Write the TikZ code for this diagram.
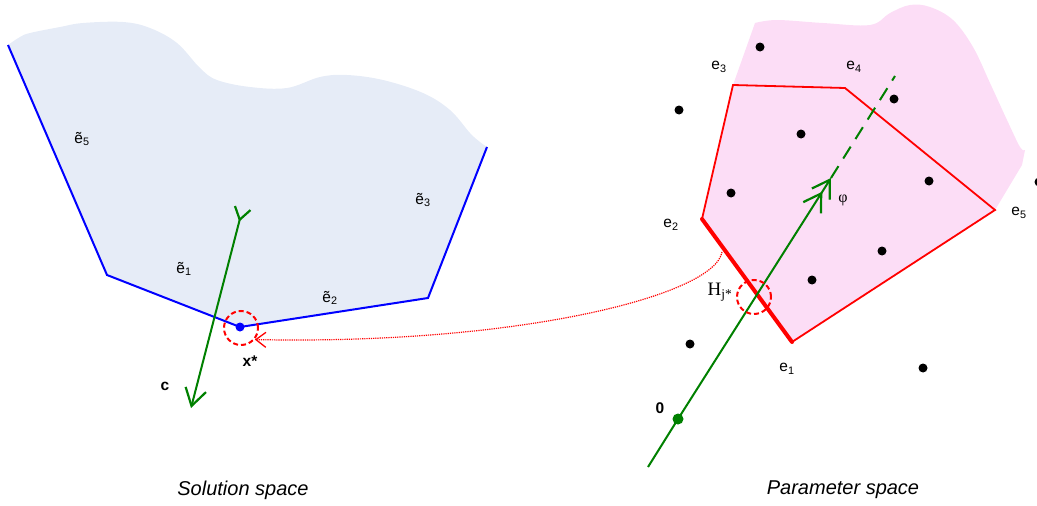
\documentclass[tikz,border=0pt]{standalone}
\usepackage{fontspec}
\setmainfont{Liberation Sans}
\newfontfamily\serifface{Liberation Serif}
\usepackage{tikz}
\usetikzlibrary{arrows.meta}
\definecolor{solfill}{HTML}{E6ECF7}
\definecolor{parfill}{HTML}{FCDDF6}
\definecolor{dirgreen}{HTML}{008000}

\begin{document}
\begin{tikzpicture}[x=1pt, y=-1pt,
  lbl/.style={inner sep=0pt, font=\fontsize{15.5}{18}\selectfont},
  boldlbl/.style={inner sep=0pt, font=\fontsize{15.5}{18}\selectfont\bfseries},
  title/.style={font=\fontsize{20}{24}\selectfont\itshape},
  dot/.style={circle, fill=black, inner sep=0pt, minimum size=9pt},
  ring/.style={circle, draw=red, dash pattern=on 5pt off 3pt, line width=2pt, inner sep=0pt, minimum size=34pt},
  barb/.tip={Straight Barb[length=17pt, width=21pt, line width=2.2pt]}]
  \useasboundingbox (0,0) rectangle (1037,506);

  % solution space
  \coordinate (v5) at (8,45);
  \coordinate (v1) at (107,275);
  \coordinate (v2) at (428,298);
  \coordinate (v3) at (487,147);
  \fill[solfill] (v1) -- (v5) -- plot[smooth, tension=0.6] coordinates {(8,45) (20,37) (30,33) (60,27) (83,23)
    (123,22) (150,28) (177,43) (200,68) (217,80) (250,87) (287,88) (320,77) (347,75) (383,80)
    (423,93) (450,110) (470,133) (480,142) (487,147)} -- (v2) -- (240,327) -- cycle;
  \node[circle, fill=blue, inner sep=0pt, minimum size=9pt] (xs) at (240,327) {};
  \draw[blue, line width=2pt] (v5) -- (v1) -- (xs.center) -- (v2) -- (v3);
  \node[ring] (xring) at (241,328) {};

  \coordinate (ctop) at (243,207);
  \coordinate (cbot) at (191,408);
  \draw[dirgreen, line width=2pt, {Straight Barb[reversed, length=12pt, width=16pt, line width=2.2pt]}-barb] (ctop) -- (cbot);

  \node[lbl] (et5) at (82,139) {ẽ\textsubscript{5}};
  \node[lbl] (et1) at (184,269) {ẽ\textsubscript{1}};
  \node[lbl] (et2) at (330,298) {ẽ\textsubscript{2}};
  \node[lbl] (et3) at (423,200) {ẽ\textsubscript{3}};
  \node[boldlbl] (clbl) at (165,386) {c};
  \node[boldlbl] (xlbl) at (250,361) {x*};

  % parameter space
  \coordinate (q1) at (792,342);
  \coordinate (q2) at (702,219);
  \coordinate (q3) at (733,85);
  \coordinate (q4) at (845,88);
  \coordinate (q5) at (995,210);
  \fill[parfill] (q2) -- (q3) -- plot[smooth, tension=0.6] coordinates {(755,23) (777,20) (823,23) (870,25)
    (890,13) (910,5) (930,7) (953,20) (973,47) (990,83) (1007,120) (1020,147) (1025,150)}
    -- (1022,165) -- (q5) -- (q1) -- cycle;
  \draw[red, line width=1.8pt] (q1) -- (q5) -- (q4) -- (q3) -- (q2);
  \draw[red, line width=4pt, line cap=round] (q2) -- (q1);

  \foreach \p [count=\i] in {(760,47),(679,110),(894,99),(801,134),(929,181),(731,193),
      (882,251),(812,280),(690,344),(923,368),(1039,182)}
    \node[dot] (pt\i) at \p {};

  \node[circle, fill=dirgreen, inner sep=0pt, minimum size=11pt] (orig) at (678,419) {};
  \coordinate (gbot) at (648,467);
  \coordinate (gtip) at (831,178);
  \coordinate (gend) at (895,76);
  \draw[dirgreen, line width=2pt] (gbot) -- (orig.center);
  \draw[dirgreen, line width=2pt, -{barb[sep=-4pt]barb}] (orig.center) -- (gtip);
  \draw[dirgreen, line width=2pt, dash pattern=on 14pt off 9pt] (gtip) -- (gend);

  \node[ring] (hring) at (754,297) {};
  \coordinate (hstart) at (722,252);
  \draw[red, densely dotted, line width=1.2pt, -{Straight Barb[length=10pt, width=15pt, line width=1.3pt]}]
    (hstart) .. controls (715,295) and (520,345) .. (xring.-40);

  \node[lbl] (e1) at (787,369) {e\textsubscript{1}};
  \node[lbl] (e2) at (671,225) {e\textsubscript{2}};
  \node[lbl] (e3) at (719,67) {e\textsubscript{3}};
  \node[lbl] (e4) at (854,67) {e\textsubscript{4}};
  \node[lbl] (e5) at (1019,213) {e\textsubscript{5}};
  \node[inner sep=0pt, font=\fontsize{16}{18}\serifface] (philbl) at (843,200) {φ};
  \node[inner sep=0pt, font=\fontsize{19}{22}\serifface] (hlbl) at (720,292) {H\textsubscript{j*}};
  \node[boldlbl] (olbl) at (660,408) {0};

  \node[title] (soltitle) at (243,490) {Solution space};
  \node[title] (partitle) at (843,490) {Parameter space};
\end{tikzpicture}
\end{document}
